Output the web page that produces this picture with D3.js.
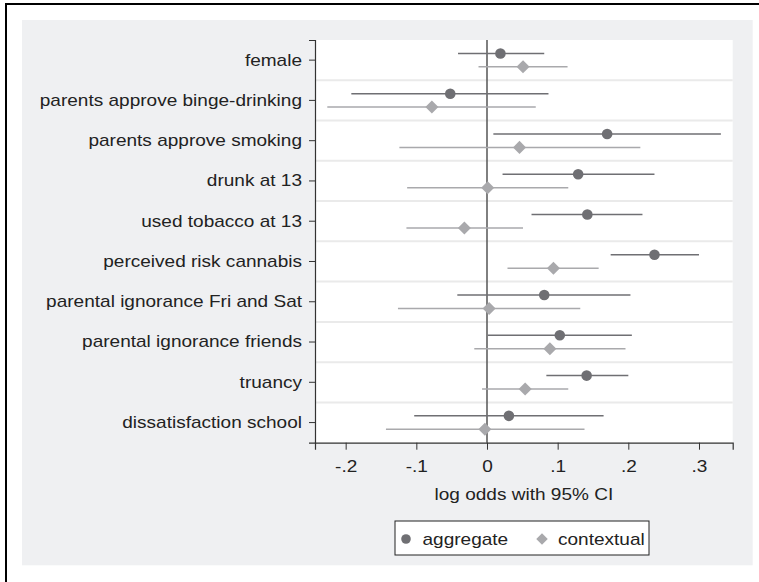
<!DOCTYPE html>
<html>
<head>
<meta charset="utf-8">
<script src="https://cdn.jsdelivr.net/npm/d3@7"></script>
<style>
  body { margin: 0; background: #fff; }
  svg { display: block; font-family: "Liberation Sans", Arial, sans-serif; }
</style>
</head>
<body>
<svg id="chart" width="759" height="582"></svg>
<script>
// rows, top to bottom
const categories = [
  "female",
  "parents approve binge-drinking",
  "parents approve smoking",
  "drunk at 13",
  "used tobacco at 13",
  "perceived risk cannabis",
  "parental ignorance Fri and Sat",
  "parental ignorance friends",
  "truancy",
  "dissatisfaction school"
];

// aggregate: estimate, lower, upper
const aggEst = [0.019, -0.052, 0.170, 0.129, 0.142, 0.237, 0.081, 0.103, 0.141, 0.031];
const aggLo  = [-0.041, -0.192, 0.009, 0.022, 0.063, 0.175, -0.042, 0.001, 0.084, -0.103];
const aggHi  = [0.081, 0.087, 0.331, 0.237, 0.220, 0.300, 0.203, 0.205, 0.200, 0.165];

// contextual
const ctxEst = [0.051, -0.078, 0.046, 0.001, -0.032, 0.094, 0.003, 0.089, 0.054, -0.003];
const ctxLo  = [-0.012, -0.226, -0.124, -0.113, -0.114, 0.029, -0.126, -0.018, -0.007, -0.143];
const ctxHi  = [0.114, 0.069, 0.217, 0.115, 0.051, 0.158, 0.132, 0.196, 0.115, 0.138];

const xTicks = [-0.2, -0.1, 0, 0.1, 0.2, 0.3];
const xTickLabels = ["-.2", "-.1", "0", ".1", ".2", ".3"];

const svg = d3.select("#chart");
const plot = { left: 315, right: 732.7, top: 40, bottom: 442.7 };
const fs = 17, sx = 1.12; // text is a bit wide in the original

// outer frame and grey graph region
svg.append("rect").attr("x", 6).attr("y", 4).attr("width", 800).attr("height", 700)
  .attr("fill", "#fff").attr("stroke", "#000").attr("stroke-width", 2);
svg.append("rect").attr("x", 22).attr("y", 20).attr("width", 730.7).attr("height", 545.3)
  .attr("fill", "#eff0f2");
svg.append("rect").attr("x", plot.left).attr("y", plot.top)
  .attr("width", plot.right - plot.left).attr("height", plot.bottom - plot.top)
  .attr("fill", "#fff");

const x = d3.scaleLinear().domain([-0.2434, 0.3477]).range([plot.left, plot.right]);
const y = d3.scaleBand().domain(categories).range([plot.top, plot.bottom]);
const off = 6.7;

// separators between rows
svg.append("g").selectAll("line").data(categories.slice(1)).join("line")
  .attr("x1", plot.left).attr("x2", plot.right)
  .attr("y1", d => y(d)).attr("y2", d => y(d))
  .attr("stroke", "#eaeaea").attr("stroke-width", 2);

// zero reference line
svg.append("line").attr("x1", x(0)).attr("x2", x(0))
  .attr("y1", plot.top).attr("y2", plot.bottom)
  .attr("stroke", "#555").attr("stroke-width", 1.5);

function drawSeries(est, lo, hi, dy, color, shape) {
  const g = svg.append("g");
  g.selectAll("line").data(categories).join("line")
    .attr("x1", (d, i) => x(lo[i])).attr("x2", (d, i) => x(hi[i]))
    .attr("y1", d => y(d) + y.bandwidth() / 2 + dy)
    .attr("y2", d => y(d) + y.bandwidth() / 2 + dy)
    .attr("stroke", color).attr("stroke-width", 1.5);
  g.selectAll("path").data(categories).join("path")
    .attr("d", d3.symbol().type(shape).size(shape === d3.symbolCircle ? 88 : 85))
    .attr("transform", (d, i) => {
      const t = `translate(${x(est[i])},${y(d) + y.bandwidth() / 2 + dy})`;
      return shape === d3.symbolSquare ? t + " rotate(45)" : t;
    })
    .attr("fill", color);
}
drawSeries(aggEst, aggLo, aggHi, -off, "#6f6f73", d3.symbolCircle);
drawSeries(ctxEst, ctxLo, ctxHi, off, "#a9a9ac", d3.symbolSquare);

// axes
const yAxis = d3.axisLeft(y).tickSize(6).tickPadding(7);
const gy = svg.append("g").attr("transform", `translate(${plot.left},0)`).call(yAxis);
gy.select(".domain").attr("stroke", "#333").attr("stroke-width", 1.2);
gy.selectAll(".tick line").attr("stroke", "#333");
gy.selectAll(".tick text").attr("font-size", fs).attr("fill", "#222")
  .attr("x", -13 / sx).attr("transform", `scale(${sx},1)`);

const xAxis = d3.axisBottom(x).tickValues(xTicks)
  .tickFormat((d, i) => xTickLabels[i]).tickSize(7).tickPadding(10);
const gx = svg.append("g").attr("transform", `translate(0,${plot.bottom})`).call(xAxis);
gx.select(".domain").attr("stroke", "#333").attr("stroke-width", 1.2);
gx.selectAll(".tick line").attr("stroke", "#333");
gx.selectAll(".tick text").attr("font-size", fs).attr("fill", "#222")
  .attr("transform", `scale(${sx},1)`);

function label(px, py, txt, anchor) {
  svg.append("text").attr("transform", `translate(${px},${py}) scale(${sx},1)`)
    .attr("text-anchor", anchor).attr("font-size", fs).attr("fill", "#222").text(txt);
}
label((plot.left + plot.right) / 2, 500, "log odds with 95% CI", "middle");

// legend
svg.append("rect").attr("x", 395).attr("y", 521).attr("width", 254).attr("height", 34)
  .attr("fill", "#fff").attr("stroke", "#222").attr("stroke-width", 1);
svg.append("path").attr("d", d3.symbol().type(d3.symbolCircle).size(72))
  .attr("transform", "translate(406,539)").attr("fill", "#6f6f73");
label(422.5, 545, "aggregate", "start");
svg.append("path").attr("d", d3.symbol().type(d3.symbolSquare).size(66))
  .attr("transform", "translate(542,539) rotate(45)").attr("fill", "#a9a9ac");
label(558, 545, "contextual", "start");
</script>
</body>
</html>
